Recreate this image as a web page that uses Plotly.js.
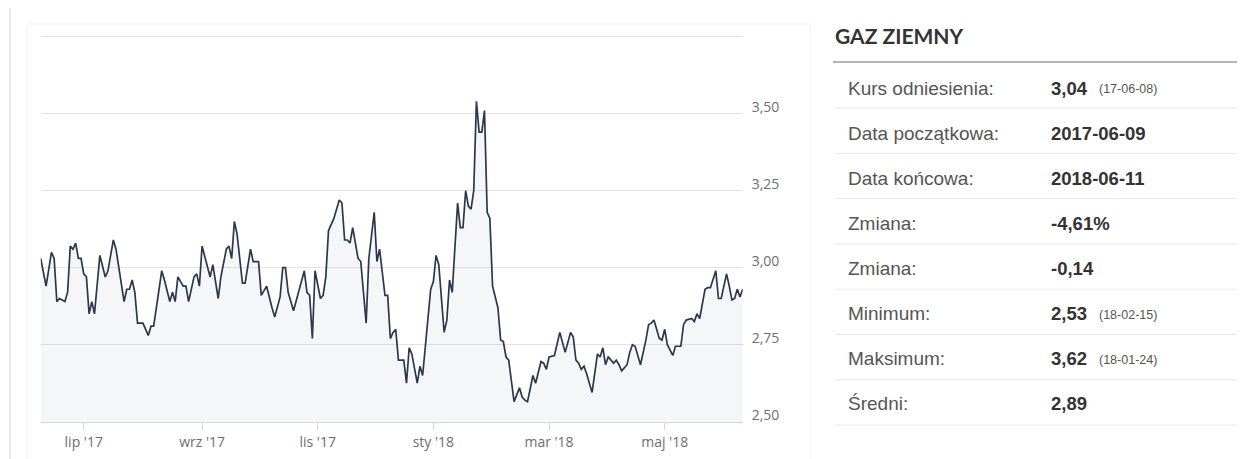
<!DOCTYPE html>
<html>
<head>
<meta charset="utf-8">
<script src="https://cdn.plot.ly/plotly-3.0.1.min.js"></script>
<style>
  html, body { margin: 0; padding: 0; background: #ffffff; }
  #chart { width: 1242px; height: 459px; }
</style>
</head>
<body>
<div id="chart"></div>
<script>
// ---- data ----
const dates = [
  '2017-06-09','2017-06-13','2017-06-15','2017-06-16','2017-06-19','2017-06-20','2017-06-22','2017-06-23',
  '2017-06-26','2017-06-27','2017-06-28','2017-06-29','2017-06-30','2017-07-03','2017-07-04','2017-07-05',
  '2017-07-06','2017-07-07','2017-07-11','2017-07-13','2017-07-14','2017-07-18','2017-07-19','2017-07-24',
  '2017-07-25','2017-07-26','2017-07-27','2017-07-28','2017-07-31','2017-08-02','2017-08-04','2017-08-07',
  '2017-08-08','2017-08-11','2017-08-14','2017-08-16','2017-08-17','2017-08-18','2017-08-21','2017-08-23',
  '2017-08-24','2017-08-25','2017-08-29','2017-08-30','2017-08-31','2017-09-01','2017-09-06','2017-09-07',
  '2017-09-11','2017-09-12','2017-09-14','2017-09-15','2017-09-18','2017-09-19','2017-09-20','2017-09-22',
  '2017-09-25','2017-09-26','2017-09-27','2017-09-28','2017-10-02','2017-10-03','2017-10-05','2017-10-09',
  '2017-10-10','2017-10-12','2017-10-13','2017-10-16','2017-10-17','2017-10-19','2017-10-23','2017-10-25',
  '2017-10-26','2017-10-27','2017-10-30','2017-10-31','2017-11-02','2017-11-03','2017-11-06','2017-11-07',
  '2017-11-09','2017-11-13','2017-11-14','2017-11-15','2017-11-16','2017-11-17','2017-11-20','2017-11-22',
  '2017-11-23','2017-11-27','2017-11-28','2017-11-30','2017-12-01','2017-12-04','2017-12-06','2017-12-07',
  '2017-12-08','2017-12-11','2017-12-12','2017-12-13','2017-12-15','2017-12-18','2017-12-19','2017-12-20',
  '2017-12-22','2017-12-25','2017-12-26','2017-12-29','2018-01-01','2018-01-02','2018-01-03','2018-01-05',
  '2018-01-08','2018-01-09','2018-01-10','2018-01-11','2018-01-12','2018-01-15','2018-01-16','2018-01-17',
  '2018-01-18','2018-01-19','2018-01-22','2018-01-23','2018-01-24','2018-01-25','2018-01-26','2018-01-29',
  '2018-01-30','2018-01-31','2018-02-02','2018-02-05','2018-02-06','2018-02-07','2018-02-08','2018-02-12',
  '2018-02-14','2018-02-15','2018-02-16','2018-02-19','2018-02-21','2018-02-22','2018-02-26','2018-02-27',
  '2018-02-28','2018-03-01','2018-03-05','2018-03-07','2018-03-09','2018-03-13','2018-03-14','2018-03-15',
  '2018-03-16','2018-03-19','2018-03-20','2018-03-21','2018-03-23','2018-03-27','2018-03-28','2018-03-29',
  '2018-03-30','2018-04-02','2018-04-04','2018-04-05','2018-04-06','2018-04-09','2018-04-11','2018-04-12',
  '2018-04-13','2018-04-16','2018-04-18','2018-04-20','2018-04-23','2018-04-24','2018-04-25','2018-04-27',
  '2018-04-30','2018-05-01','2018-05-02','2018-05-04','2018-05-07','2018-05-09','2018-05-10','2018-05-11',
  '2018-05-15','2018-05-16','2018-05-17','2018-05-18','2018-05-22','2018-05-23','2018-05-24','2018-05-28',
  '2018-05-29','2018-05-30','2018-06-01','2018-06-04','2018-06-05','2018-06-06','2018-06-07','2018-06-08',
  '2018-06-11'
];
const prices = [
  3.03,2.94,3.05,3.03,2.89,2.90,2.89,2.92,
  3.07,3.06,3.08,3.03,3.03,2.98,2.97,2.85,
  2.89,2.85,3.04,2.97,2.99,3.09,3.06,2.89,
  2.93,2.93,2.96,2.92,2.82,2.82,2.78,2.81,
  2.81,2.99,2.96,2.89,2.92,2.89,2.97,2.94,
  2.94,2.89,2.97,2.98,2.94,3.07,2.97,3.01,
  2.90,2.97,3.06,3.07,3.03,3.15,3.11,2.95,
  2.95,3.00,3.06,3.02,3.02,2.91,2.94,2.87,
  2.84,2.905,3.00,3.00,2.92,2.86,2.93,2.99,
  2.92,2.91,2.77,2.99,2.90,2.91,2.97,3.12,
  3.16,3.22,3.21,3.09,3.09,3.08,3.13,3.03,
  3.02,2.82,3.03,3.18,3.02,3.06,2.91,2.91,
  2.77,2.79,2.80,2.70,2.70,2.625,2.74,2.72,
  2.625,2.68,2.65,2.93,2.955,3.04,3.01,2.79,
  2.83,2.96,2.92,3.06,3.21,3.13,3.13,3.25,
  3.20,3.19,3.25,3.54,3.44,3.44,3.51,3.18,
  3.16,2.94,2.87,2.765,2.76,2.71,2.70,2.565,
  2.61,2.58,2.57,2.565,2.65,2.625,2.695,2.69,
  2.67,2.71,2.715,2.79,2.725,2.79,2.775,2.70,
  2.69,2.67,2.68,2.655,2.595,2.72,2.71,2.74,
  2.685,2.71,2.69,2.70,2.685,2.665,2.685,2.725,
  2.75,2.745,2.685,2.765,2.815,2.82,2.83,2.77,
  2.765,2.80,2.75,2.715,2.745,2.745,2.815,2.83,
  2.835,2.825,2.85,2.835,2.93,2.935,2.935,2.99,
  2.90,2.90,2.98,2.94,2.895,2.90,2.93,2.905,
  2.93
];
const xTickVals = ['2017-07-03','2017-09-01','2017-11-01','2018-01-01','2018-03-01','2018-05-01'];
const xTickText = ["lip '17","wrz '17","lis '17","sty '18","mar '18","maj '18"];
const yTickVals = [2.5, 2.75, 3.0, 3.25, 3.5, 3.75];
const yTickText = ['2,50','2,75','3,00','3,25','3,50',''];

const panelTitle = 'GAZ ZIEMNY';
const tableLabels = ['Kurs odniesienia:','Data początkowa:','Data końcowa:','Zmiana:','Zmiana:','Minimum:','Maksimum:','Średni:'];
const tableValues = ['3,04','2017-06-09','2018-06-11','-4,61%','-0,14','2,53','3,62','2,89'];
const tableNotes  = ['(17-06-08)','','','','','(18-02-15)','(18-01-24)',''];

// ---- layout helpers (pixel -> paper) ----
const W = 1242, H = 459;
const px = v => v / W;
const py = v => 1 - v / H;

const trace = {
  type: 'scatter', mode: 'lines',
  x: dates, y: prices,
  line: { color: '#2c374c', width: 1.7, shape: 'linear' },
  fill: 'tozeroy', fillcolor: 'rgba(40,70,120,0.05)',
  hoverinfo: 'skip'
};

const annotations = [];
const shapes = [];

// outer container borders
shapes.push({ type: 'line', xref: 'paper', yref: 'paper', x0: px(10), x1: px(10), y0: py(8), y1: 0,
  line: { color: '#e9e9e9', width: 2 } });
shapes.push({ type: 'rect', xref: 'paper', yref: 'paper', x0: px(27), x1: px(810), y0: py(24), y1: -0.01,
  line: { color: '#f3f3f3', width: 1 }, fillcolor: 'rgba(0,0,0,0)', layer: 'below' });

// table title
annotations.push({ xref: 'paper', yref: 'paper', x: px(833), y: py(35), xanchor: 'left', yanchor: 'middle',
  text: '<b>' + panelTitle + '</b>', showarrow: false,
  font: { family: 'Lato, "Open Sans", sans-serif', size: 21, color: '#333333' } });
shapes.push({ type: 'line', xref: 'paper', yref: 'paper', x0: px(833), x1: px(1237), y0: py(62), y1: py(62),
  line: { color: '#6a6a6a', width: 1 } });

for (let i = 0; i < tableLabels.length; i++) {
  const yc = 88 + 45.1 * i;
  const ys = 108 + 45.3 * i;
  annotations.push({ xref: 'paper', yref: 'paper', x: px(846), y: py(yc), xanchor: 'left', yanchor: 'middle',
    text: tableLabels[i], showarrow: false,
    font: { family: '"Liberation Sans", Arial, sans-serif', size: 19, color: '#555555' } });
  annotations.push({ xref: 'paper', yref: 'paper', x: px(1049), y: py(yc), xanchor: 'left', yanchor: 'middle',
    text: '<b>' + tableValues[i] + '</b>', showarrow: false,
    font: { family: '"Liberation Sans", Arial, sans-serif', size: 18.5, color: '#333333' } });
  if (tableNotes[i]) {
    annotations.push({ xref: 'paper', yref: 'paper', x: px(1097), y: py(yc + 1), xanchor: 'left', yanchor: 'middle',
      text: tableNotes[i], showarrow: false,
      font: { family: '"Liberation Sans", Arial, sans-serif', size: 12.5, color: '#555555' } });
  }
  shapes.push({ type: 'line', xref: 'paper', yref: 'paper', x0: px(835), x1: px(1237), y0: py(ys), y1: py(ys),
    line: { color: '#e8e8e8', width: 1 } });
}

// y scale: 2.50 at 421.7 px, 3.75 at 36.7 px; range top padded so the 3.75 gridline is kept
const yTop = 3.77;
const pxPerUnit = (421.7 - 36.7) / 1.25;
const plotTopPx = 421.7 - (yTop - 2.5) * pxPerUnit;

const layout = {
  width: W, height: H,
  margin: { l: 0, r: 0, t: 0, b: 0, pad: 0 },
  paper_bgcolor: '#ffffff', plot_bgcolor: 'rgba(0,0,0,0)',
  showlegend: false,
  xaxis: {
    type: 'date',
    domain: [px(40.7), px(742.7)],
    range: ['2017-06-09', '2018-06-11'],
    rangebreaks: [{ bounds: ['sat', 'mon'] }],
    tickmode: 'array', tickvals: xTickVals, ticktext: xTickText,
    ticks: 'outside', ticklen: 7, tickcolor: '#ccd6eb', tickwidth: 1,
    showgrid: false, zeroline: false,
    showline: true, linecolor: '#ccd6eb', linewidth: 1,
    tickfont: { family: '"Open Sans", sans-serif', size: 14, color: '#6e6e6e' },
    fixedrange: true
  },
  yaxis: {
    domain: [1 - 421.7 / H, 1 - plotTopPx / H],
    range: [2.5, yTop],
    side: 'right',
    tickmode: 'array', tickvals: yTickVals, ticktext: yTickText,
    ticklabelposition: 'outside top',
    ticklabelshift: 3,
    ticks: '', ticklabelstandoff: 8,
    showgrid: true, gridcolor: '#e3e3e3', gridwidth: 1,
    zeroline: false, showline: false,
    tickfont: { family: '"Open Sans", sans-serif', size: 14, color: '#6e6e6e' },
    fixedrange: true
  },
  annotations: annotations,
  shapes: shapes
};

Plotly.newPlot('chart', [trace], layout, { displayModeBar: false, staticPlot: true });
</script>
</body>
</html>
